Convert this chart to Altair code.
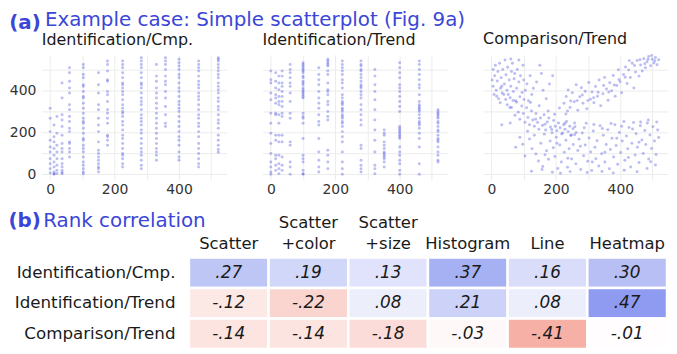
import altair as alt
import pandas as pd

FONT = "DejaVu Sans"
TITLE_BLUE = "#3b46d8"
POINT_BLUE = "#3d45dd"

# ---- Panel 1: Identification/Cmp. (x column -> y values)
p1_cols = {
    0: [315, 267, 203, 162, 130, 106, 74, 50, 26, 5],
    12: [235, 178, 154, 122, 90, 58, 34, 10, 2, 0],
    21: [275, 195, 138, 106, 74, 42, 18, 3],
    37: [435, 363, 283, 259, 227, 186, 146, 122, 106, 74, 50, 34, 18, 8, 2],
    60: [508, 484, 443, 411, 387, 331, 307, 275, 251, 219, 203, 154, 146, 122, 106, 82],
    103: [524, 508, 476, 460, 427, 419, 395, 371, 363, 339, 315, 291, 267, 251, 243, 219,
          195, 170, 162, 138, 122, 106, 82, 58, 42, 26, 10, 2],
    150: [484, 427, 387, 331, 307, 267, 235, 203, 154, 114, 98, 82, 66, 50, 34, 26, 10],
    178: [540, 524, 492, 451, 443, 395, 379, 347, 307, 291, 267, 243, 186, 178, 162, 138],
    225: [540, 524, 508, 484, 460, 435, 427, 411, 395, 379, 355, 331, 315, 299, 291, 275,
          251, 235, 211, 186, 170, 146, 122, 98, 90, 74, 50, 34],
    283: [556, 540, 524, 508, 484, 460, 435, 427, 411, 387, 363, 347, 331, 307, 283, 267,
          251, 235, 211, 195, 170, 146, 122, 106, 90, 66, 42, 26],
    330: [524, 468, 443, 411, 387, 363, 339, 315, 291, 267, 243, 219, 195, 170, 146, 122,
          106, 90, 66],
    358: [556, 540, 524, 500, 468, 443, 427, 395, 363, 323, 283, 243, 227],
    400: [548, 532, 516, 500, 476, 460, 435, 411, 395, 371, 347, 331, 315, 299, 275, 251,
          227, 203, 178, 162, 138, 106, 82, 66],
    461: [540, 524, 508, 492, 468, 443, 427, 411, 387, 371, 355, 331, 307, 283, 267, 243,
          227, 203, 178, 146, 122, 98, 74, 50, 34],
    522: [556, 548, 540, 524, 508, 492, 476, 460, 435, 419, 403, 387, 363, 347, 323, 307,
          283, 259, 243, 219, 186, 162, 138, 118, 104],
}

# ---- Panel 2: Identification/Trend
p2_cols = {
    0: [492, 451, 435, 387, 355, 291, 243, 195, 146, 98, 58, 34, 10, 0],
    15: [484, 443, 411, 379, 363, 339, 291, 283, 186, 162, 90, 74, 42, 18],
    25: [468, 435, 403, 371, 347, 331, 283, 243, 186, 154, 90, 50, 26, 2],
    35: [492, 468, 435, 419, 395, 371, 347, 323, 291, 275, 186, 154, 82, 42, 18],
    60: [524, 500, 484, 460, 435, 419, 387, 347, 291, 267, 154, 138, 58, 34, 0],
    100: [532, 524, 516, 508, 500, 492, 484, 468, 460, 443, 435, 427, 411, 403, 395, 387,
          379, 371, 363, 291, 275, 267, 243, 170, 90, 74, 58, 18, 2, 0],
    149: [508, 476, 451, 427, 395, 363, 339, 315, 283, 251, 235, 170, 106, 66, 34, 10],
    177: [548, 540, 532, 524, 516, 492, 476, 435, 403, 395, 379, 347, 331, 299, 275, 259,
          114, 90, 58, 26],
    222: [540, 524, 508, 492, 476, 451, 435, 411, 379, 363, 347, 339, 331, 315, 307, 299,
          283, 275, 267, 251, 243, 227, 203, 178, 154, 106, 58, 26, 0],
    280: [540, 524, 516, 500, 492, 476, 460, 443, 427, 419, 411, 395, 379, 363, 331, 307,
          283, 259, 235, 138, 122, 66, 42, 26, 10],
    323: [500, 468, 427, 395, 355, 307, 259, 211, 162, 106, 42, 26, 2],
    352: [211, 195, 186, 154, 138, 122, 106, 98, 90, 82, 74, 58, 34],
    400: [532, 508, 484, 460, 427, 411, 395, 371, 347, 323, 299, 227, 219, 211, 203, 195,
          186, 178, 170, 130, 106, 90, 66, 50, 18, 0],
    461: [540, 524, 500, 476, 451, 427, 411, 379, 347, 331, 323, 315, 307, 299, 283, 267,
          251, 243, 235, 219, 195, 170, 130, 50, 0],
    519: [307, 299, 291, 283, 275, 267, 251, 243, 227, 211, 203, 186, 170, 162, 154, 130,
          106, 90, 66, 58],
}

# ---- Panel 3: Comparison/Trend (x, y) pairs
p3_points = [
    # upper-left cloud
    (5, 500), (10, 470), (12, 520), (18, 445), (20, 490), (25, 530), (28, 410), (30, 460),
    (35, 500), (38, 380), (40, 430), (42, 545), (45, 475), (48, 400), (50, 510), (55, 450),
    (58, 365), (60, 420), (62, 490), (65, 530), (68, 395), (70, 455), (75, 350), (78, 410),
    (80, 500), (85, 440), (88, 370), (90, 470), (95, 390), (98, 520), (5, 420), (8, 380),
    (15, 400), (22, 360), (2, 450), (32, 420), (52, 380), (72, 480), (100, 450), (105, 400),
    (110, 430), (115, 350), (120, 470), (125, 380), (130, 410), (140, 440), (150, 520),
    (155, 480), (160, 400), (170, 360), (180, 430), (190, 470), (60, 550), (85, 545),
    (16, 372), (27, 341), (33, 388), (44, 356), (49, 331), (57, 318),
    # descending ridge
    (62, 318), (67, 352), (73, 281), (78, 343), (83, 296), (88, 262), (94, 325), (99, 289),
    (104, 248), (109, 317), (113, 271), (118, 236), (124, 301), (128, 258), (133, 229),
    (138, 289), (143, 246), (147, 214), (152, 268), (158, 232), (163, 283), (168, 211),
    (173, 249), (178, 268), (183, 225), (188, 198), (193, 256), (198, 229), (203, 207),
    (208, 244), (213, 221), (218, 192), (224, 236), (228, 214), (233, 251), (238, 203),
    (243, 229), (248, 187), (253, 217), (258, 244), (263, 199), (176, 302), (196, 286),
    (148, 327), (121, 342), (101, 356), (211, 316), (231, 287), (137, 262), (166, 238),
    # rising upper-right band
    (225, 338), (232, 371), (238, 402), (244, 318), (251, 389), (257, 346), (263, 427),
    (268, 305), (274, 369), (279, 412), (284, 338), (291, 396), (296, 312), (302, 437),
    (307, 358), (312, 392), (318, 341), (323, 418), (329, 372), (334, 449), (339, 326),
    (346, 384), (351, 462), (357, 407), (362, 353), (367, 436), (373, 398), (378, 471),
    (384, 372), (389, 423), (394, 498), (399, 441), (404, 389), (410, 476), (416, 512),
    (421, 433), (426, 497), (431, 461), (437, 529), (442, 411), (447, 488), (452, 543),
    (458, 468), (463, 521), (468, 492), (473, 551), (478, 508), (483, 537), (488, 562),
    (494, 517), (499, 548), (504, 531), (509, 557), (514, 522), (519, 546), (486, 548),
    (497, 566), (507, 541), (476, 527), (461, 546), (444, 519), (428, 542), (415, 463),
    (396, 452), (381, 426), (364, 392), (348, 423), (331, 391), (317, 365), (299, 351),
    (282, 378), (266, 351), (246, 349), (236, 302),
    # lower cloud
    (32, 236), (58, 244), (75, 128), (88, 176), (97, 143), (104, 87), (112, 205), (118, 168),
    (126, 121), (133, 186), (138, 96), (146, 63), (153, 148), (159, 37), (164, 191),
    (171, 112), (177, 71), (182, 158), (187, 213), (192, 126), (197, 84), (201, 176),
    (206, 27), (212, 139), (217, 58), (221, 197), (226, 104), (231, 162), (236, 33),
    (241, 121), (246, 184), (249, 72), (254, 141), (259, 226), (262, 49), (268, 113),
    (272, 167), (277, 22), (282, 196), (286, 88), (291, 139), (294, 243), (299, 61),
    (303, 172), (308, 106), (311, 17), (316, 206), (321, 128), (324, 74), (328, 159),
    (333, 39), (337, 231), (342, 97), (347, 186), (352, 58), (356, 141), (361, 212),
    (366, 26), (369, 118), (374, 171), (379, 82), (383, 236), (387, 137), (392, 47),
    (397, 199), (401, 103), (406, 158), (411, 251), (414, 66), (419, 182), (423, 121),
    (427, 223), (432, 34), (436, 147), (441, 246), (446, 91), (449, 193), (453, 128),
    (458, 56), (462, 231), (467, 163), (471, 98), (476, 208), (479, 141), (484, 244),
    (488, 72), (492, 187), (497, 122), (501, 226), (506, 158), (511, 94), (516, 211),
    (519, 175), (513, 249), (487, 258), (463, 249), (438, 215), (404, 229), (371, 242),
    (344, 218), (318, 237), (288, 221), (258, 188), (228, 243), (124, 14), (157, 22),
    (189, 9), (214, 4), (244, 12), (297, 8), (343, 13), (378, 6), (412, 19), (452, 11),
    (483, 27), (509, 44), (166, 93), (203, 148), (237, 76), (276, 133), (313, 58),
    (352, 104), (389, 171), (425, 79), (458, 152), (494, 59),
]

# ---- Rank correlation table
rows = ["Identification/Cmp.", "Identification/Trend", "Comparison/Trend"]
cols = ["Scatter", "Scatter|+color", "Scatter|+size", "Histogram", "Line", "Heatmap"]
r_id_cmp = [0.27, 0.19, 0.13, 0.37, 0.16, 0.30]
r_id_trend = [-0.12, -0.22, 0.08, 0.21, 0.08, 0.47]
r_cmp_trend = [-0.14, -0.14, -0.18, -0.03, -0.41, -0.01]


def cols_to_df(d):
    xs, ys = [], []
    for k, vals in d.items():
        for v in vals:
            xs.append(k)
            ys.append(v)
    return pd.DataFrame({"x": xs, "y": ys})


df1 = cols_to_df(p1_cols)
df2 = cols_to_df(p2_cols)
df3 = pd.DataFrame({"x": [p[0] for p in p3_points], "y": [p[1] for p in p3_points]})

XDOM = [-26, 548]
YDOM = [-28, 570]
GRIDVALS = [0, 100, 200, 300, 400, 500]
LABEXPR = "datum.value % 200 == 0 ? datum.label : ''"


def panel(df, title, show_y):
    yaxis = alt.Axis(values=GRIDVALS, labelExpr=LABEXPR, title=None, ticks=False,
                     domain=False, grid=True, gridColor="#ececec", labels=show_y,
                     labelFontSize=14, labelColor="#333333", labelFont=FONT, labelPadding=6)
    xaxis = alt.Axis(values=GRIDVALS, labelExpr=LABEXPR, title=None, ticks=False,
                     domain=False, grid=True, gridColor="#ececec",
                     labelFontSize=14, labelColor="#333333", labelFont=FONT, labelPadding=3)
    return alt.Chart(df).mark_circle(size=9, opacity=0.35, color=POINT_BLUE).encode(
        x=alt.X("x:Q", scale=alt.Scale(domain=XDOM, nice=False, zero=False), axis=xaxis),
        y=alt.Y("y:Q", scale=alt.Scale(domain=YDOM, nice=False, zero=False), axis=yaxis),
    ).properties(
        width=186, height=126,
        title=alt.TitleParams(title, anchor="start", frame="group", fontSize=16, font=FONT,
                              fontWeight="normal", color="#1a1a1a", offset=7),
    )


top_inner = alt.hconcat(
    panel(df1, "Identification/Cmp.", True),
    panel(df2, "Identification/Trend", False),
    panel(df3, "Comparison/Trend", False),
    spacing=36,
).properties(
    title=alt.TitleParams("Example case: Simple scatterplot (Fig. 9a)", anchor="start",
                          dx=36, fontSize=20, font=FONT, fontWeight="normal",
                          color=TITLE_BLUE, offset=1)
)
top = alt.vconcat(top_inner).properties(
    title=alt.TitleParams("(a)", anchor="start", fontSize=20, font=FONT, fontWeight="bold",
                          color=TITLE_BLUE, offset=-23)
)

# table data
vals = [r_id_cmp, r_id_trend, r_cmp_trend]
trow, tcol, tval = [], [], []
for r, vs in zip(rows, vals):
    for c, v in zip(cols, vs):
        trow.append(r)
        tcol.append(c)
        tval.append(v)
tdf = pd.DataFrame({"row": trow, "col": tcol, "r": tval})
tdf["label"] = tdf["r"].map(lambda v: ("-" if v < 0 else "") + f"{abs(v):.2f}"[1:])

# row-label column (its own small view, labels right-aligned on its right edge)
labels_view = alt.Chart(tdf).mark_rect(opacity=0).encode(
    y=alt.Y("row:N", sort=rows, title=None,
            axis=alt.Axis(orient="right", ticks=False, domain=False, labelFontSize=16.8,
                          labelFont=FONT, labelColor="#1a1a1a", labelAlign="right",
                          labelPadding=-12, labelLimit=300)),
).properties(
    width=146, height=92,
    title=alt.TitleParams("(b)", anchor="start", dx=-6, fontSize=20, font=FONT,
                          fontWeight="bold", color=TITLE_BLUE, offset=27),
)

LINE2 = "indexof(datum.label, '|') >= 0 ? split(datum.label, '|')[1] : datum.label"
LINE1 = "indexof(datum.label, '|') >= 0 ? split(datum.label, '|')[0] : ''"


def header_axis(expr, pad):
    return alt.Axis(orient="top", labelAngle=0, ticks=False, domain=False, labelExpr=expr,
                    labelFontSize=16.5, labelFont=FONT, labelColor="#1a1a1a",
                    labelPadding=pad)


rects = alt.Chart(tdf).mark_rect(stroke="white", strokeWidth=2.5).encode(
    x=alt.X("col:N", sort=cols, title=None, axis=header_axis(LINE2, 6)),
    y=alt.Y("row:N", sort=rows, title=None, axis=None),
    color=alt.Color("r:Q", legend=None,
                    scale=alt.Scale(domain=[-0.5, 0, 0.5],
                                    range=["#f49f92", "#ffffff", "#8795ef"],
                                    interpolate="rgb")),
)
texts = alt.Chart(tdf).mark_text(fontSize=17, font=FONT, fontStyle="italic",
                                 color="#1a1a1a").encode(
    x=alt.X("col:N", sort=cols, title=None, axis=header_axis(LINE1, 27)),
    y=alt.Y("row:N", sort=rows, title=None, axis=None),
    text="label:N",
)
table = alt.layer(rects, texts).resolve_axis(x="independent").properties(width=481, height=92)

bottom = alt.hconcat(labels_view, table, spacing=0).properties(
    title=alt.TitleParams("Rank correlation", anchor="start", dx=35, fontSize=20, font=FONT,
                          fontWeight="normal", color=TITLE_BLUE, offset=-20)
)

chart = alt.vconcat(top, bottom, spacing=14).properties(
    padding={"top": 1, "left": 0, "right": 0, "bottom": 0}
).configure_view(stroke=None)

chart.save("out.html", embed_options={"renderer": "svg", "actions": False})
